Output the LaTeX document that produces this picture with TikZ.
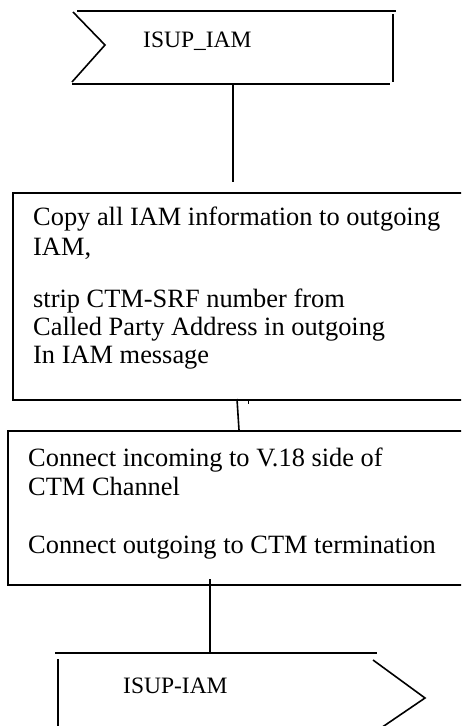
\documentclass[tikz,border=0pt]{standalone}
\usepackage{fontspec}
\setmainfont{Liberation Serif}
\begin{document}
\begin{tikzpicture}[x=1pt,y=-1pt,
  lnk/.style={line width=1.6pt,black},
  boxtxt/.style={anchor=base west,inner sep=0pt,font=\fontsize{26.4}{29}\selectfont},
  sigtxt/.style={anchor=base west,inner sep=0pt,font=\fontsize{23.5}{28}\selectfont}]
\useasboundingbox (0,0) rectangle (461,726);
\clip (0,0) rectangle (461,726);
% input signal
\coordinate (inA) at (77,11);
\draw[lnk] (inA) -- (396,11);
\draw[lnk] (393,14) -- (393,82);
\draw[lnk] (72,84) -- (390,84);
\draw[lnk] (73,12) -- (105,45) -- (72,82);
\node[sigtxt] (sigin) at (143,47) {ISUP\_IAM};
\coordinate (inB) at (233,84);
\coordinate (b1t) at (233,182);
\draw[lnk] (inB) -- (b1t);
% box 1
\node[draw,line width=1.6pt,minimum width=463pt,minimum height=207pt,inner sep=0pt,anchor=north west] (box1) at (12,192) {};
\node[boxtxt] (t1a) at (33,225) {Copy all IAM information to outgoing};
\node[boxtxt] (t1b) at (33,255) {IAM,};
\node[boxtxt] (t1c) at (33,307) {strip CTM-SRF number from};
\node[boxtxt] (t1d) at (33,335) {Called Party Address in outgoing};
\node[boxtxt] (t1e) at (33,363) {In IAM message};
% box 2
\node[draw,line width=1.6pt,minimum width=468pt,minimum height=154pt,inner sep=0pt,anchor=north west] (box2) at (7,430) {};
\node[boxtxt] (t2a) at (28,466) {Connect incoming to V.18 side of};
\node[boxtxt] (t2b) at (28,495) {CTM Channel};
\node[boxtxt] (t2c) at (28,553) {Connect outgoing to CTM termination};
% connectors
\coordinate (c1a) at (237,399);
\coordinate (c1b) at (239,430);
\draw[lnk] (c1a) -- (c1b);
\draw[line width=0.8pt] (248,399) -- (248,404);
\coordinate (c2a) at (210,579);
\coordinate (c2b) at (210,653);
\draw[lnk] (c2a) -- (c2b);
% output signal
\draw[lnk] (55,653) -- (377,653);
\draw[lnk] (58,659) -- (58,730);
\draw[lnk] (373,660) -- (425,698) -- (378,730);
\node[sigtxt] (sigout) at (123,693) {ISUP-IAM};
\end{tikzpicture}
\end{document}
